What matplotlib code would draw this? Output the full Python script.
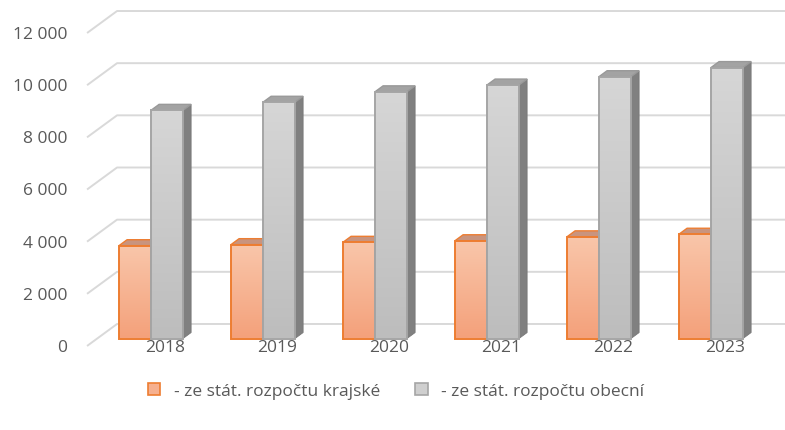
"""Excel-style 3D column chart: state budget contributions 2018-2023."""

import numpy as np
import matplotlib
matplotlib.use('Agg')
import matplotlib.pyplot as plt
from matplotlib.patches import Polygon, Rectangle
from matplotlib.colors import LinearSegmentedColormap

years = ['2018', '2019', '2020', '2021', '2022', '2023']
krajske = [3560, 3600, 3690, 3750, 3900, 4000]
obecni = [8750, 9060, 9460, 9720, 10040, 10390]
y_ticks = [0, 2000, 4000, 6000, 8000, 10000, 12000]
y_tick_labels = ['0', '2 000', '4 000', '6 000', '8 000', '10 000', '12 000']
series_labels = ['- ze stát. rozpočtu krajské', '- ze stát. rozpočtu obecní']

plt.rcParams['font.family'] = ['Open Sans', 'DejaVu Sans']
TEXT = '#595959'
GRID = '#D9D9D9'
FS = 12.5

W, H = 785, 431
fig = plt.figure(figsize=(W / 100, H / 100), dpi=100)
ax = fig.add_axes([0, 0, 1, 1])

# pixel geometry of the fake 3D frame
step = 112       # px per category
x0 = 151         # px of first category (orange/gray boundary)
base = 339.5     # px of bar baseline
ppu = 0.02608    # px per value unit
DX = 30 / step   # full depth, x (category units)
DY = 22 / ppu    # full depth, y (value units)
D_FRONT, D_WALL, D_BAR = -0.34, 0.66, 0.27
x_wall = -0.48
bw = 32 / step

xmin, xmax = (0 - x0) / step, (W - x0) / step


def proj(x, v, d):
    return x + d * DX, v + d * DY


# --- walls: diagonal + back gridlines ---
for v, lbl in zip(y_ticks, y_tick_labels):
    fx, fy = proj(x_wall, v, D_FRONT)
    bx, by = proj(x_wall, v, D_WALL)
    ax.plot([fx, bx, xmax], [fy, by, by], color=GRID, lw=1.4, zorder=1,
            solid_capstyle='butt')
    ax.annotate(lbl, (fx, fy), xytext=(-20, -1), textcoords='offset pixels',
                ha='right', va='center', fontsize=FS, color=TEXT)

cm_orange = LinearSegmentedColormap.from_list('o', ['#F4A17B', '#F9C6AA'])
cm_gray = LinearSegmentedColormap.from_list('g', ['#BDBDBD', '#D6D6D6'])
grad = np.linspace(0, 1, 64).reshape(-1, 1)


def front_face(x, v, cmap, edge, z):
    rect = Rectangle((x, 0), bw, v, facecolor='none', edgecolor=edge,
                     lw=1.4, zorder=z + 0.1)
    ax.add_patch(rect)
    im = ax.imshow(grad, extent=(x, x + bw, 0, v), origin='lower', cmap=cmap,
                   aspect='auto', zorder=z, interpolation='bilinear')
    im.set_clip_path(rect)


def top_face(x, v, color, edge, z):
    pts = [proj(x, v, 0), proj(x + bw, v, 0), proj(x + bw, v, D_BAR), proj(x, v, D_BAR)]
    ax.add_patch(Polygon(pts, closed=True, facecolor=color, edgecolor=edge,
                         lw=1.0, zorder=z))


def side_face(x, v, color, z):
    pts = [proj(x, 0, 0), proj(x, v, 0), proj(x, v, D_BAR), proj(x, 0, D_BAR)]
    ax.add_patch(Polygon(pts, closed=True, facecolor=color, edgecolor='#777777',
                         lw=0.6, zorder=z))


for i, (yr, kv, ov) in enumerate(zip(years, krajske, obecni)):
    z = 3 + i
    # orange series (left)
    top_face(i - bw, kv, '#C9947E', '#ED7D31', z)
    front_face(i - bw, kv, cm_orange, '#ED7D31', z)
    # gray series (right)
    side_face(i + bw, ov, '#808080', z + 0.2)
    top_face(i, ov, '#A3A3A3', '#999999', z + 0.2)
    front_face(i, ov, cm_gray, '#A5A5A5', z + 0.3)
    ax.annotate(yr, (i, 0), xytext=(14, -9), textcoords='offset pixels',
                ha='center', va='center', fontsize=FS, color=TEXT)

ax.set_xlim(xmin, xmax)
ax.set_ylim((base - H) / ppu, base / ppu)
ax.axis('off')

handles = [
    Rectangle((0, 0), 1, 1, facecolor='#F6B08F', edgecolor='#ED7D31', lw=1.2),
    Rectangle((0, 0), 1, 1, facecolor='#CFCFCF', edgecolor='#A5A5A5', lw=1.2),
]
fig.legend(handles, series_labels, loc='center', bbox_to_anchor=(0.505, 1 - 392 / H),
           ncol=2, frameon=False, fontsize=12.5, labelcolor=TEXT,
           handlelength=0.7, handleheight=0.7, handletextpad=0.8, columnspacing=2.0)

fig.savefig('out.png', dpi=100)
